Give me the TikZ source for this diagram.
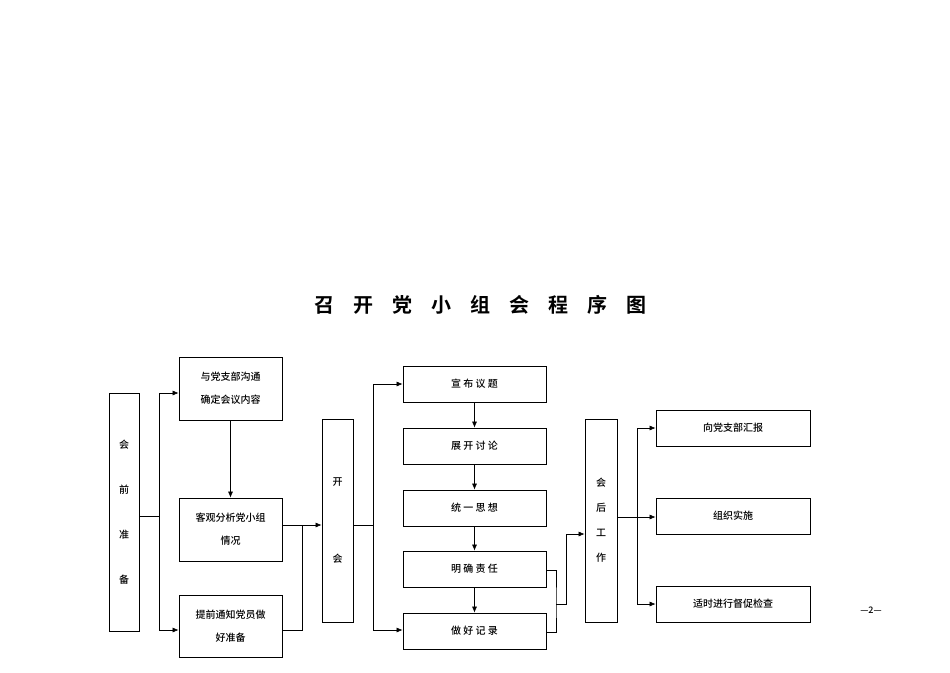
\documentclass[tikz,border=0pt]{standalone}
\usepackage{fontspec}
\setmainfont{Noto Sans CJK SC Medium}
\newfontfamily\cjkb{Noto Sans CJK SC Bold}
\usetikzlibrary{arrows.meta}
\begin{document}
\begin{tikzpicture}[x=1pt,y=-1pt,
  bx/.style={draw,line width=0.8pt,inner sep=0pt,font=\fontsize{10}{23}\selectfont,align=center},
  ar/.style={-{Latex[length=6pt,width=5pt]},line width=0.6pt},
  ln/.style={line width=0.6pt}]
\useasboundingbox (0,0) rectangle (950,672);
\node[font=\cjkb\fontsize{20}{20}\selectfont] (title) at (480,305) {召\hspace{19pt}开\hspace{19pt}党\hspace{19pt}小\hspace{19pt}组\hspace{19pt}会\hspace{19pt}程\hspace{19pt}序\hspace{19pt}图};
\newcommand\bxat[6]{\node[bx,minimum width=#4-#2,minimum height=#5-#3] (#1) at ({(#2+#4)/2},{(#3+#5)/2}) {#6};}
\bxat{a}{109}{393}{139}{631}{会\\[22pt]前\\[22pt]准\\[22pt]备}
\bxat{b1}{179}{357}{282}{420}{与党支部沟通\\确定会议内容}
\bxat{b2}{179}{498}{282}{561}{客观分析党小组\\情况}
\bxat{b3}{179}{595}{282}{657}{提前通知党员做\\好准备}
\bxat{k}{322}{419}{353}{622}{开\\[54pt]会}
\bxat{c1}{403}{366}{546}{402}{宣\ 布\ 议\ 题}
\bxat{c2}{403}{428}{546}{464}{展\ 开\ 讨\ 论}
\bxat{c3}{403}{490}{546}{526}{统\ 一\ 思\ 想}
\bxat{c4}{403}{551}{546}{587}{明\ 确\ 责\ 任}
\bxat{c5}{403}{613}{546}{649}{做\ 好\ 记\ 录}
\bxat{h}{585}{419}{617}{622}{会\\[2pt]后\\[2pt]工\\[2pt]作}
\bxat{d1}{656}{410}{810}{446}{向党支部汇报}
\bxat{d2}{656}{498}{810}{534}{组织实施}
\bxat{d3}{656}{586}{810}{622}{适时进行督促检查}
\node[font=\fontsize{9}{9}\selectfont] (pg) at (871,610) {—2—};
% pre-meeting
\coordinate (j1) at (159,516);
\draw[ln] (a.east|-j1) -- (j1);
\draw[ar] (j1) |- (b1.west|-0,393);
\draw[ar] (j1) |- (b3.west|-0,630);
\draw[ar] (b1) -- (b2);
\coordinate (j2) at (302,525);
\draw[ln] (b3.east|-0,630) -| (j2);
\draw[ar] (b2.east|-j2) -- (k.west|-j2);
% meeting
\coordinate (j3) at (373,525);
\draw[ln] (k.east|-j3) -- (j3);
\draw[ar] (j3) |- (c1.west|-0,384);
\draw[ar] (j3) |- (c5.west|-0,630);
\draw[ar] (c1) -- (c2);
\draw[ar] (c2) -- (c3);
\draw[ar] (c3) -- (c4);
\draw[ar] (c4) -- (c5);
\coordinate (j4) at (556,604);
\draw[ln] (c4.east|-0,570) -| (j4) |- (c5.east|-0,632);
\draw[ar] (j4) -- (566,604) |- (h.west|-0,534);
% after
\coordinate (j5) at (637,517);
\draw[ar] (h.east|-j5) -- (d2.west|-j5);
\draw[ar] (j5) |- (d1.west|-0,428);
\draw[ar] (j5) |- (d3.west|-0,604);
\end{tikzpicture}
\end{document}
